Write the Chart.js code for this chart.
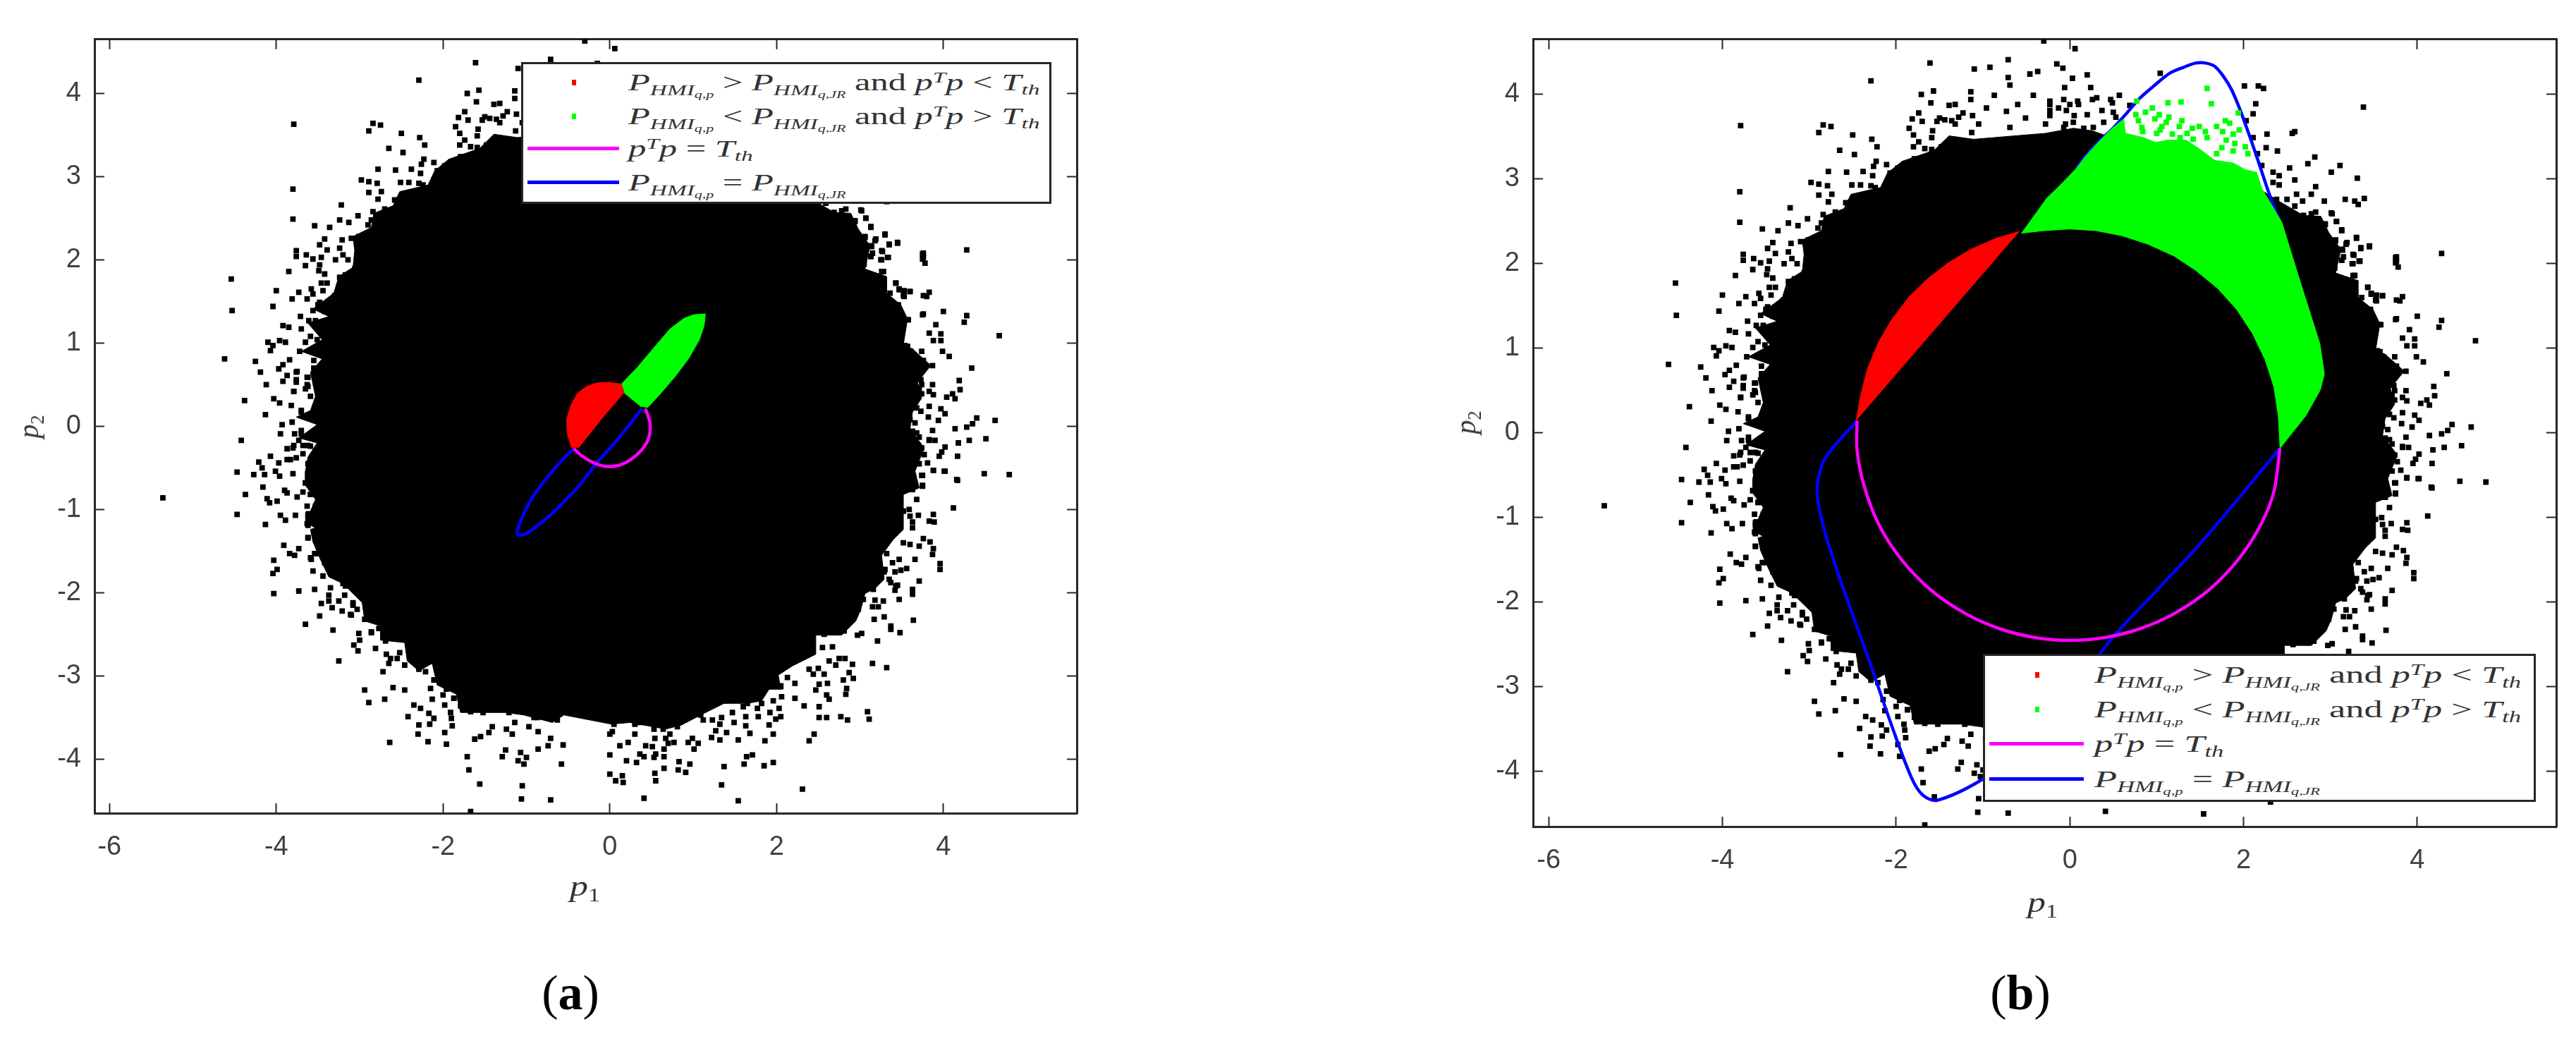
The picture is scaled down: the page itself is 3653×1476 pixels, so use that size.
<!DOCTYPE html>
<html>
<head>
<meta charset="utf-8">
<title>Panels a and b</title>
<script src="https://cdn.jsdelivr.net/npm/chart.js@4"></script>
<style>
  html, body { margin: 0; padding: 0; background: #fff; }
  #page { position: relative; width: 3653px; height: 1476px; overflow: hidden; }
  canvas { position: absolute; }
  .math { font-family: "Liberation Serif", serif; color: #333; white-space: nowrap; position: absolute; line-height: 1; transform-origin: left center; }
  .math i { font-style: italic; }
  .math sub, .math sup { font-size: 66%; line-height: 0; }
  .math sub { vertical-align: -0.3em; }
  .math sup { vertical-align: 0.5em; }
  .legend { position: absolute; background: #fff; border: 3px solid #262626; box-sizing: border-box; }
  .swatch { position: absolute; }
  .caption { position: absolute; font-family: "Liberation Serif", serif; font-size: 70px; color: #000; line-height: 1; transform: translate(-50%, -50%); }
</style>
</head>
<body>
<div id="page">
  <canvas id="panelA" width="1800" height="1300" style="left:0;top:0"></canvas>
  <canvas id="panelB" width="1653" height="1320" style="left:2000px;top:0"></canvas>
</div>
<script>
var xTicks = [-6, -4, -2, 0, 2, 4];
var yTicks = [-4, -3, -2, -1, 0, 1, 2, 3, 4];

// solid middle of the black cloud, jagged outline
var cloudCore = [[0.6,3.3],[0.45,3.5],[0.26,3.57],[0.04,3.6],[-0.28,3.54],[-1.11,3.47],[-1.39,3.51],[-1.56,3.34],[-1.93,3.21],[-2.1,3.07],[-2.18,2.9],[-2.52,2.82],[-2.6,2.65],[-2.83,2.56],[-2.86,2.39],[-3.08,2.28],[-3.06,2.11],[-3.08,1.91],[-3.25,1.8],[-3.31,1.6],[-3.56,1.41],[-3.37,1.32],[-3.62,1.24],[-3.45,1.04],[-3.7,0.9],[-3.45,0.81],[-3.59,0.65],[-3.53,0.36],[-3.59,0.19],[-3.76,0.11],[-3.51,0.02],[-3.73,-0.14],[-3.51,-0.2],[-3.62,-0.37],[-3.65,-0.54],[-3.65,-0.71],[-3.53,-0.88],[-3.65,-1.16],[-3.53,-1.22],[-3.59,-1.24],[-3.56,-1.39],[-3.48,-1.58],[-3.37,-1.81],[-3.2,-1.89],[-2.97,-2.12],[-2.94,-2.34],[-2.75,-2.4],[-2.75,-2.57],[-2.46,-2.6],[-2.43,-2.82],[-2.29,-2.94],[-2.13,-2.85],[-2.07,-3.11],[-1.84,-3.22],[-1.79,-3.44],[-1.53,-3.44],[-1.25,-3.44],[-1.03,-3.47],[-0.69,-3.56],[-0.55,-3.47],[0.02,-3.58],[0.24,-3.56],[0.67,-3.64],[0.86,-3.59],[1.09,-3.47],[1.37,-3.33],[1.65,-3.33],[1.82,-3.3],[1.91,-3.16],[2.05,-3.16],[2.02,-2.99],[2.19,-2.88],[2.47,-2.74],[2.47,-2.51],[2.78,-2.51],[2.95,-2.34],[3.01,-2.2],[3.06,-2.01],[3.18,-1.95],[3.29,-1.84],[3.26,-1.55],[3.4,-1.36],[3.52,-1.24],[3.52,-0.82],[3.71,-0.74],[3.66,-0.54],[3.77,-0.26],[3.6,-0.03],[3.63,0.17],[3.74,0.34],[3.69,0.53],[3.85,0.73],[3.63,0.93],[3.52,0.98],[3.57,1.29],[3.49,1.46],[3.32,1.6],[3.32,1.8],[3.06,1.89],[3.12,2.17],[2.98,2.37],[2.89,2.56],[2.69,2.57],[2.42,2.73],[2,3],[1.3,3.2]];

var cloudTopLeft = [[-1.61,4.37],[-2.29,4.16],[-0.71,4.41],[-1.71,4],[-1.57,4.04],[-1.6,3.9],[-1.39,3.87],[-1.14,3.94],[-1.74,3.78],[-1.815,3.71],[-1.7,3.68],[-1.53,3.68],[-1.44,3.7],[-1.36,3.69],[-1.28,3.73],[-1.23,3.78],[-1.12,3.75],[-1.85,3.6],[-1.8,3.52],[-1.58,3.57],[-1.59,3.49],[-1.13,3.55],[-3.79,3.63],[-2.84,3.64],[-2.75,3.62],[-2.89,3.55],[-2.5,3.52],[-2.28,3.47],[-2.22,3.38],[-2.65,3.34],[-2.48,3.29],[-2.78,3.09],[-2.57,3.08],[-2.38,3.09],[-2.27,3.04],[-2.23,3.21],[-2.26,3.15],[-2.11,3.17],[-1.8,3.38],[-1.74,3.44],[-1.67,3.36],[-2.98,2.96],[-2.89,2.94],[-2.79,2.92],[-2.51,2.93],[-2.41,2.93],[-2.29,2.92],[-3.8,2.85],[-2.89,2.81],[-2.74,2.82],[-2.78,2.73],[-2.58,2.72],[-3.22,2.66],[-3.8,2.49],[-3.02,2.53],[-3.24,2.48],[-3.13,2.45],[-3.54,2.41],[-3.36,2.39],[-2.84,2.58],[-2.86,2.48],[-2.7,2.61],[-2.79,2.48],[-2.9,2.42],[-2.63,2.54],[-2.52,2.41],[-2.8,2.31],[-3.01,2.28],[-2.92,2.28],[-3.1,2.26],[-3.21,2.24],[-3.42,2.25],[-3.48,2.18],[-3.39,2.12],[-3.76,2.11],[-3.76,2.04],[-3.64,2.06],[-3.56,2.01],[-3.46,2.03],[-3.24,2.14],[-3.2,2.06],[-3.29,2],[-3.65,1.93],[-3.48,1.94],[-3.85,1.86],[-3.49,1.87],[-3.42,1.83],[-4.54,1.77],[-3.24,1.79],[-3.46,1.72],[-3.39,1.72],[-3.17,1.82],[-4,1.63],[-3.73,1.61],[-3.58,1.65],[-3.56,1.59],[-3.44,1.63],[-3.25,1.66],[-3.3,1.57],[-3.81,1.53],[-3.63,1.53],[-3.2,1.59],[-3.48,1.49],[-3.3,1.45],[-4.04,1.44],[-4.53,1.39],[-3.56,1.39],[-3.42,1.38],[-3.71,1.32],[-3.61,1.27],[-3.92,1.21],[-3.85,1.19],[-3.7,1.17],[-3.54,1.21],[-3.39,1.23],[-3.59,1.08],[-4.1,1.01],[-3.96,1.03],[-3.89,1.01],[-4.04,0.97],[-3.65,1.01],[-3.51,1.04],[-4.07,0.91],[-3.72,0.9],[-3.56,0.91],[-4.62,0.81],[-4.25,0.78],[-3.84,0.8],[-3.92,0.74],[-3.97,0.69],[-3.55,0.79],[-3.55,0.7],[-4.19,0.65],[-3.87,0.61],[-3.75,0.66],[-3.92,0.54],[-3.76,0.56],[-4.12,0.5],[-3.63,0.59],[-3.63,0.5],[-3.79,0.42]];

var cloudLeft = [[-4.38,0.31],[-4.03,0.33],[-3.96,0.28],[-3.82,0.25],[-3.7,0.19],[-4.13,0.14],[-3.93,0.02],[-3.81,0.05],[-3.95,-0.09],[-3.78,-0.09],[-3.7,-0.05],[-4.42,-0.17],[-3.73,-0.17],[-3.87,-0.27],[-3.8,-0.26],[-3.68,-0.33],[-3.59,-0.24],[-4.07,-0.36],[-3.83,-0.4],[-3.97,-0.44],[-4.21,-0.43],[-4.17,-0.5],[-4.47,-0.55],[-4.27,-0.58],[-4.14,-0.58],[-4.01,-0.54],[-3.96,-0.6],[-3.8,-0.57],[-4.16,-0.73],[-3.9,-0.77],[-3.87,-0.8],[-4.37,-0.82],[-3.75,-0.85],[-3.68,-0.79],[-5.36,-0.86],[-4.11,-0.87],[-4.08,-0.92],[-3.99,-0.9],[-3.63,-0.96],[-4.47,-1.06],[-3.95,-1.07],[-3.77,-1.07],[-3.89,-1.13],[-3.61,-1.05],[-3.63,-1.17],[-4.13,-1.18],[-3.62,-1.34],[-3.91,-1.43],[-3.73,-1.47],[-3.84,-1.53],[-3.78,-1.55],[-4.03,-1.61],[-3.59,-1.58]];

var cloudBottomLeft = [[-3.99,-1.72],[-4.04,-1.77],[-3.58,-1.6],[-3.56,-1.74],[-3.44,-1.8],[-3.32,-1.79],[-3.23,-1.8],[-4.03,-2.01],[-3.73,-1.98],[-3.54,-1.96],[-3.35,-1.94],[-3.2,-1.89],[-3.37,-2.03],[-3.18,-2.03],[-3.46,-2.13],[-3.37,-2.1],[-3.25,-2.1],[-3.33,-2.18],[-3.21,-2.22],[-3.1,-2.27],[-3.08,-2.15],[-3.48,-2.28],[-3.65,-2.38],[-3.32,-2.45],[-2.94,-2.32],[-2.83,-2.29],[-3.01,-2.49],[-2.86,-2.48],[-3,-2.57],[-3.07,-2.63],[-3.02,-2.7],[-2.81,-2.67],[-2.69,-2.58],[-2.75,-2.43],[-2.68,-2.74],[-2.52,-2.72],[-2.63,-2.79],[-2.55,-2.79],[-3.25,-2.82],[-2.65,-2.85],[-2.46,-2.87],[-2.72,-2.95],[-2.32,-2.82],[-2.29,-2.92],[-2.21,-2.95],[-2.11,-3.05],[-2.94,-3.17],[-2.6,-3.14],[-2.46,-3.17],[-2.15,-3.15],[-1.96,-3.16],[-2,-3.23],[-2.7,-3.28],[-2.89,-3.32],[-2.13,-3.28],[-1.87,-3.27],[-2.35,-3.35],[-2.27,-3.39],[-1.98,-3.35],[-2.42,-3.49],[-2.17,-3.45],[-2.11,-3.51],[-1.91,-3.44],[-1.74,-3.39],[-1.67,-3.43],[-1.52,-3.44],[-1.36,-3.4],[-1.21,-3.44],[-1.9,-3.51],[-1.89,-3.6],[-2.29,-3.59],[-2.16,-3.58],[-2.3,-3.7],[-1.98,-3.68],[-2.64,-3.8],[-2.18,-3.79],[-1.96,-3.82],[-1.62,-3.76],[-1.55,-3.73],[-1.45,-3.68],[-1.41,-3.61],[-1.24,-3.64],[-1.14,-3.56],[-1.17,-3.7],[-0.97,-3.61],[-0.87,-3.5],[-0.86,-3.67],[-0.71,-3.75],[-0.63,-3.53],[-0.74,-3.84],[-1.25,-3.89],[-1.29,-3.97],[-0.86,-3.88],[-0.56,-3.83],[-1.71,-3.97],[-1.69,-4.13],[-1.07,-3.92],[-1,-3.98],[-1.1,-4.02],[-1.03,-4.06],[-0.58,-4.06],[-1.56,-4.3],[-1.05,-4.32],[-1.06,-4.48],[-0.71,-4.49],[-1.67,-4.63]];

var cloudBottomRight = [[0,-3.95],[0.2,-4.02],[0.32,-4.04],[0,-4.18],[0.07,-4.26],[0.15,-4.2],[0.16,-4.28],[0.12,-3.84],[0.22,-3.8],[0.03,-3.67],[0.3,-3.7],[0.43,-3.84],[0.51,-3.85],[0.54,-3.75],[0.36,-3.94],[0.41,-3.97],[0.53,-3.98],[0.55,-3.94],[0.65,-3.97],[0.65,-3.88],[0.7,-3.81],[0.77,-3.8],[0.65,-4.11],[0.54,-4.17],[0.55,-4.26],[0.41,-4.47],[0.83,-4.03],[0.96,-4.06],[0.82,-4.13],[0.91,-4.16],[0.94,-3.8],[0.99,-3.75],[1.06,-3.81],[1.01,-3.88],[1.37,-4.09],[1.34,-4.31],[1.54,-4.5],[2.31,-4.36],[1.22,-3.74],[1.32,-3.77],[1.27,-3.66],[1.4,-3.68],[1.54,-3.77],[1.63,-3.6],[1.68,-3.69],[1.64,-3.97],[1.71,-3.95],[1.61,-4.06],[1.85,-4.08],[1.96,-4.04],[1.86,-3.78],[1.96,-3.7],[1.91,-3.59],[2.39,-3.78],[2.45,-3.7],[1.47,-3.44],[1.63,-3.49],[1.78,-3.49],[1.92,-3.44],[1.99,-3.52],[2.05,-3.49],[1.6,-3.37],[2.03,-3.39],[2.33,-3.36],[2.51,-3.5],[2.6,-3.5],[2.77,-3.49],[2.85,-3.53],[3.09,-3.43],[3.11,-3.52],[2.51,-3.37],[2.22,-3.27],[2.06,-3.25],[2.63,-3.28],[2.6,-3.23],[2.47,-3.17],[2.51,-3.1],[2.61,-3.09],[2.22,-3.09],[2.13,-3.02],[2.05,-3.12],[2.44,-2.98],[2.57,-2.98],[2.39,-2.92],[2.5,-2.91],[2.8,-3.05],[2.92,-3.03],[2.87,-2.96],[2.84,-3.15],[2.83,-3.22],[2.91,-2.86],[3.15,-2.85],[3.32,-2.9],[2.71,-2.87],[2.63,-2.82],[2.75,-2.79],[2.82,-2.79],[2.55,-2.66],[2.67,-2.65],[3.21,-2.58],[2.97,-2.51],[3.02,-2.49],[3.48,-2.48],[3.37,-2.4],[3.37,-2.44],[3.17,-2.32],[3.29,-2.29],[3.64,-2.33],[2.87,-2.32],[2.81,-2.46],[2.57,-2.5],[3.47,-2.08],[3.63,-1.96],[3.63,-2.02],[3.15,-2.17],[3.22,-2.17],[3.18,-2.09],[3.28,-2.1],[3.42,-1.97],[3.45,-1.91],[2.97,-2.15],[3.04,-2.08],[3.71,-1.86],[3.37,-1.88],[3.16,-1.96],[3.96,-1.65],[3.96,-1.72],[3.42,-1.75],[3.49,-1.73],[3.56,-1.71],[3.39,-1.64],[3.47,-1.6],[3.66,-1.6],[3.3,-1.72],[3.87,-1.54],[3.88,-1.47],[3.84,-1.39],[3.76,-1.35],[3.71,-1.44],[3.6,-1.42],[3.52,-1.4],[3.47,-1.23],[3.63,-1.22],[3.63,-1.15],[3.83,-1.14],[3.89,-1.15],[3.88,-1.06],[3.7,-1.07],[3.59,-1],[3.6,-1.08],[4.12,-0.98],[3.68,-0.88],[3.75,-0.72],[4.17,-0.65],[3.63,-0.76],[3.88,-0.53],[4.01,-0.54],[3.74,-0.59],[3.63,-0.57]];

var cloudRight = [[3.02,2.59],[3.07,2.5],[2.94,2.46],[3.13,2.39],[3.3,2.3],[2.97,2.3],[3.06,2.28],[3.19,2.25],[3.13,2.17],[3.35,2.18],[3.45,2.2],[3.27,2.1],[4.28,2.12],[3.76,2.08],[3.76,2.03],[3.78,1.96],[3.13,2.04],[3.34,2.03],[3.26,2],[3.28,1.86],[3.43,1.72],[3.28,1.77],[3.47,1.64],[3.6,1.62],[3.53,1.56],[3.83,1.61],[3.8,1.56],[3.36,1.6],[3.32,1.53],[3.46,1.45],[3.37,1.41],[3.76,1.35],[4,1.38],[4.28,1.33],[4.25,1.25],[3.49,1.34],[3.57,1.28],[3.4,1.25],[3.47,1.24],[3.91,1.22],[3.83,1.12],[3.97,1.11],[3.88,1.03],[3.97,1.03],[4.67,1.09],[3.43,1.11],[3.46,1.05],[3.54,0.97],[3.74,0.9],[3.61,0.9],[3.99,0.9],[4.07,0.84],[3.49,0.86],[3.76,0.79],[3.87,0.73],[3.66,0.78],[4.34,0.7],[3.73,0.67],[3.63,0.63],[4.19,0.55],[3.73,0.56],[3.87,0.5],[4.2,0.44],[3.74,0.5],[3.83,0.42],[3.88,0.38],[4.11,0.39],[4.04,0.35],[4.14,0.33],[3.68,0.36],[3.83,0.24],[3.97,0.21],[4.02,0.15],[3.73,0.18],[3.82,0.11],[3.94,0.07],[4.4,0.1],[4.62,0.07],[4.35,0.03],[4.28,-0.01],[4.14,-0.03],[3.66,0.04],[3.87,-0.05],[3.68,-0.08],[3.71,-0.13],[3.83,-0.17],[3.9,-0.17],[4.18,-0.2],[4.31,-0.17],[4.51,-0.15],[4.02,-0.25],[3.98,-0.31],[3.95,-0.36],[4.17,-0.36],[3.77,-0.34],[3.74,-0.26],[3.81,-0.44],[3.88,-0.53],[4.02,-0.54],[4.49,-0.57],[4.79,-0.58],[4.16,-0.64],[3.75,-0.59],[3.64,-0.6],[3.75,-0.71]];

var cloudTopRight = [[-0.3,4.63],[0.06,4.54],[-0.15,4.36],[-0.08,4.31],[0.2,4.23],[0.03,4.19],[-0.06,4.08],[0.24,4.08],[1.04,4.25],[0.31,3.96],[0.26,3.94],[0.57,3.99],[0.47,3.94],[0.49,3.9],[-0.07,3.94],[-0.23,3.92],[0.1,3.88],[0.69,3.87],[-0.13,3.84],[-0.23,3.81],[-0.04,3.81],[0.37,3.81],[0.5,3.79],[0.05,3.75],[0.2,3.76],[-0.23,3.75],[0.53,3.73],[0.39,3.67],[0.04,3.67],[0.27,3.61],[0.16,3.6],[-0.07,3.61],[2.01,4.1],[2.17,4.1],[2.23,4.07],[2.14,3.89],[2.11,3.77],[3.38,3.85],[2.03,3.69],[2.27,3.53],[2.59,3.56],[2.56,3.54],[2.11,3.49],[2.26,3.37],[2.39,3.33],[2.16,3.3],[2.82,3.26],[2.74,3.18],[2.21,3.16],[2.53,3.13],[2.34,3.08],[2.41,3.04],[2.59,2.99],[3.11,3.16],[3.01,3.08],[3.31,3.01],[2.34,2.96],[2.41,2.93],[2.83,2.91],[2.78,2.82],[2.61,2.82],[2.93,2.74],[3.17,2.76],[3.28,2.74],[3.39,2.77],[3.32,2.7],[2.38,2.76],[2.5,2.76],[2.68,2.74],[2.59,2.68],[3.01,2.6],[3.07,2.5],[2.94,2.47],[2.83,2.61],[2.69,2.57],[3.13,2.4],[2.84,2.37],[3.3,2.31],[2.96,2.3],[3.06,2.27],[3.45,2.21],[3.35,2.19],[3.18,2.23],[3.14,2.16],[3.26,2.11],[3.75,2.07],[3.75,2.01],[3.33,2.03],[3.25,2],[3.13,2.04],[3.05,1.95],[3.28,1.86],[3.43,1.72],[3.53,1.63],[3.6,1.62],[3.47,1.65],[3.52,1.57],[3.76,1.57],[3.75,1.34],[3.58,1.28],[3.48,1.35],[3.44,1.11],[-1.1,4.3],[-0.92,4.32],[-0.71,4.2],[-0.46,4.24],[-0.37,4.27],[-1.14,4.03],[-0.87,3.99],[-0.69,4.11],[-0.6,3.88],[-0.42,3.99],[-0.23,3.88],[-1.32,3.88],[-0.96,3.84],[-0.73,3.8],[-0.51,3.72],[-0.28,3.65],[0,3.88],[0.09,3.92],[-0.05,3.65],[-0.69,3.61],[-1.05,3.65],[-1.32,3.65],[-1.5,3.72]];

// clumps right at the edge of the solid part
var cloudDense = [[-1.36,3.47],[-1.28,3.41],[-1.48,3.38],[-1.59,3.35],[-1.79,3.24],[-1.9,3.18],[-1.98,3.13],[-2.07,3.07],[-2.24,2.9],[-2.15,2.85],[-2.46,2.79],[-2.32,2.79],[-2.52,2.73],[-2.27,2.7],[-2.61,2.56],[-2.66,2.42],[-2.58,2.34],[-2.92,2.2],[-3,2.11],[-3.14,2],[-3.06,1.89],[-3.2,1.75],[-3.11,1.8],[-3.25,1.66],[-3.17,1.58],[-3.25,1.46],[-3.5,1.46],[-3.53,1.27],[-3.45,1.1],[-3.37,1.21],[-3.37,1.01],[-3.42,0.96],[-3.51,0.9],[-3.39,0.82],[-3.53,0.53],[-3.62,0.48],[-3.76,0.65],[-3.76,0.53],[-3.62,0.59],[-3.65,0.45],[-3.79,0.42],[-3.59,0.36],[-3.7,0.17],[-3.62,0.11],[-3.7,-0.09],[-3.68,-0.23],[-3.79,-0.23],[-3.62,-0.23],[-3.76,-0.38],[-3.87,-0.4],[-3.62,-0.45],[-3.59,-0.6],[-3.65,-0.68],[-3.53,-0.74],[-3.59,-0.82],[-3.53,-0.99],[-3.62,-1.1],[-3.51,-1.13],[-3.53,-1.36],[-3.42,-1.41],[-3.51,-1.53],[-3.62,-0.57],[-3.56,-0.68],[-3.65,-0.68],[-3.59,-0.82],[-3.53,-0.96],[-3.62,-1.06],[-3.62,-1.19],[-3.62,-1.34],[-3.51,-1.33],[-3.45,-1.44],[-3.39,-1.53],[-3.54,-1.53],[-3.42,-1.64],[-3.25,-1.64],[-3.34,-1.75],[-3.11,-1.86],[-3.17,-1.92],[-3.08,-2.12],[-3.03,-2.2],[-3.11,-2.26],[-2.89,-2.32],[-2.77,-2.43],[-2.86,-2.47],[-2.63,-2.51],[-2.38,-2.74],[-2.32,-2.82],[-2.07,-2.91],[-2.1,-3.05],[-1.9,-3.11],[-1.87,-3.27],[-1.79,-3.36],[-1.67,-3.39],[-1.59,-3.3],[-1.48,-3.39],[-1.36,-3.3],[-1.28,-3.39],[-1.11,-3.42],[-0.99,-3.39],[-0.91,-3.5],[-0.83,-3.44],[-0.63,-3.47],[0.05,-3.58],[0,-3.7],[0.3,-3.58],[0.36,-3.56],[0.53,-3.64],[0.64,-3.64],[0.72,-3.7],[0.67,-3.75],[0.81,-3.61],[0.89,-3.53],[1.09,-3.47],[1.12,-3.53],[1.23,-3.53],[1.34,-3.5],[1.32,-3.58],[1.49,-3.56],[1.4,-3.3],[1.65,-3.33],[1.77,-3.39],[1.82,-3.33],[1.96,-3.3],[2.05,-3.13],[2.92,-2.15],[2.98,-2.2],[3.01,-2.03],[3.15,-1.86],[3.29,-1.75],[3.35,-1.84],[3.43,-1.92],[3.32,-1.53],[3.43,-1.24],[3.63,-0.76],[3.57,-0.57],[3.52,-1.02],[3.49,-0.4],[3.57,-0.45],[3.71,-0.45],[3.63,-0.54],[3.63,-0.29],[3.83,-0.16],[3.63,-0.06],[3.6,0.08],[3.68,0.22],[3.74,0.39],[3.71,0.45],[3.63,0.5],[3.74,0.73],[3.63,0.82],[3.54,0.84],[3.57,0.96],[3.49,1.15],[3.46,1.32],[3.46,1.46],[3.35,1.52],[3.26,1.63],[3.18,1.69],[3.26,1.86],[3.15,2.08],[3.04,2.25],[2.89,2.45],[2.78,2.59]];

// panel (a)
var circleA = [[0.427,0.212],[0.483,0.029],[0.455,-0.169],[0.328,-0.339],[0.159,-0.451],[-0.01,-0.485],[-0.165,-0.451],[-0.32,-0.367],[-0.433,-0.268]];
var curveA = [[-0.433,-0.268],[-0.574,-0.409],[-0.687,-0.536],[-0.8,-0.677],[-0.913,-0.832],[-0.997,-0.974],[-1.059,-1.115],[-1.104,-1.242],[-1.11,-1.292],[-1.076,-1.312],[-0.969,-1.27],[-0.856,-1.185],[-0.687,-1.044],[-0.518,-0.875],[-0.349,-0.691],[-0.165,-0.451],[0.103,-0.147],[0.385,0.212]];
var redA = [[0.173,0.401],[0.139,0.508],[-0.01,0.528],[-0.151,0.52],[-0.278,0.48],[-0.391,0.395],[-0.467,0.254],[-0.518,0.085],[-0.512,-0.084],[-0.461,-0.254],[-0.371,-0.254],[-0.123,0.057]];
var greenA = [[0.139,0.508],[0.328,0.706],[0.554,0.974],[0.723,1.172],[0.892,1.299],[1.005,1.341],[1.146,1.35],[1.132,1.214],[1.076,1.045],[0.949,0.819],[0.779,0.593],[0.61,0.395],[0.455,0.226],[0.37,0.24],[0.173,0.401]];

// panel (b)
var circleB = [[2.42,-0.18],[2.35,-0.69],[2.2,-1.08],[1.95,-1.48],[1.6,-1.855],[1.2,-2.135],[0.8,-2.315],[0.4,-2.417],[0,-2.45],[-0.4,-2.417],[-0.8,-2.315],[-1.2,-2.135],[-1.6,-1.855],[-1.95,-1.48],[-2.2,-1.08],[-2.37,-0.62],[-2.45,-0.2],[-2.45,0.145]];
var curveB = [[-2.45,0.145],[-2.73,-0.176],[-2.85,-0.367],[-2.91,-0.71],[-2.82,-1.17],[-2.6,-1.86],[-2.32,-2.66],[-2.05,-3.46],[-1.82,-4.08],[-1.69,-4.28],[-1.53,-4.34],[-1.02,-4.1],[-0.5,-3.7],[0,-3.1],[0.33,-2.63],[0.54,-2.36],[1.49,-1.32],[2.42,-0.18]];
var curveBTop = [[2.46,2.37],[2.29,2.84],[2.15,3.27],[2.02,3.65],[1.94,3.87],[1.86,4.06],[1.77,4.21],[1.67,4.33],[1.56,4.37],[1.45,4.37],[1.31,4.32],[1.15,4.25],[0.99,4.12],[0.8,3.95],[0.64,3.76],[0.47,3.57],[0.34,3.45],[0.18,3.27],[0.07,3.12]];
var redB = [[-0.58,2.38],[-0.85,2.3],[-1.14,2.17],[-1.4,2.01],[-1.64,1.82],[-1.85,1.61],[-2.05,1.34],[-2.2,1.08],[-2.33,0.76],[-2.41,0.44],[-2.46,0.145]];
var greenB = [[-0.56,2.36],[-0.3,2.39],[0,2.41],[0.3,2.39],[0.6,2.33],[0.9,2.23],[1.2,2.09],[1.45,1.92],[1.7,1.71],[1.92,1.46],[2.1,1.18],[2.25,0.86],[2.35,0.54],[2.4,0.2],[2.42,-0.18],[2.72,0.207],[2.885,0.512],[2.93,0.7],[2.88,1.05],[2.67,1.73],[2.44,2.49],[2.32,2.7],[2.21,2.89],[2.15,3.08],[2.02,3.11],[1.88,3.19],[1.67,3.22],[1.5,3.35],[1.34,3.46],[1.12,3.46],[0.99,3.43],[0.85,3.49],[0.64,3.54],[0.62,3.71],[0.5,3.61],[0.34,3.45],[0.18,3.27],[0.07,3.12],[-0.12,2.92],[-0.28,2.76]];
var greenDotsB = [[1.58,4.07],[1.63,3.89],[1.13,3.9],[1.28,3.91],[0.77,3.92],[0.95,3.84],[0.87,3.79],[0.76,3.76],[1.94,3.78],[1.03,3.76],[1.14,3.73],[0.79,3.69],[0.98,3.71],[1.11,3.67],[1.29,3.69],[0.83,3.61],[1.79,3.69],[1.84,3.66],[1.69,3.62],[1.26,3.62],[1.06,3.62],[1.49,3.62],[1.41,3.6],[0.84,3.56],[1,3.54],[1.04,3.58],[1.35,3.54],[1.56,3.56],[1.76,3.56],[1.95,3.58],[1.88,3.53],[1.18,3.53],[1.27,3.49],[1.58,3.49],[1.8,3.46],[1.9,3.42],[2.02,3.38],[1.42,3.47],[1.02,3.41],[1.75,3.37],[2.05,3.3],[1.88,3.33],[1.69,3.3]];

var cloud = cloudTopLeft.concat(cloudLeft, cloudBottomLeft, cloudBottomRight, cloudRight, cloudTopRight, cloudDense);

var legendRows = [
  '<i>P</i><sub><i>HMI</i><sub><i>q,p</i></sub></sub> &gt; <i>P</i><sub><i>HMI</i><sub><i>q,JR</i></sub></sub> and <i>p</i><sup><i>T</i></sup><i>p</i> &lt; <i>T</i><sub><i>th</i></sub>',
  '<i>P</i><sub><i>HMI</i><sub><i>q,p</i></sub></sub> &lt; <i>P</i><sub><i>HMI</i><sub><i>q,JR</i></sub></sub> and <i>p</i><sup><i>T</i></sup><i>p</i> &gt; <i>T</i><sub><i>th</i></sub>',
  '<i>p</i><sup><i>T</i></sup><i>p</i> = <i>T</i><sub><i>th</i></sub>',
  '<i>P</i><sub><i>HMI</i><sub><i>q,p</i></sub></sub> = <i>P</i><sub><i>HMI</i><sub><i>q,JR</i></sub></sub>'
];
var legendColors = ['#ff0000', '#00ff00', '#ff00ff', '#0000ff'];

function pts(list) {
  return list.map(function (p) { return { x: p[0], y: p[1] }; });
}

function outline(list, color) {
  return { data: pts(list), showLine: true, fill: 'shape', backgroundColor: color, borderColor: color, borderWidth: 1, pointRadius: 0 };
}

function curve(list, color) {
  return { data: pts(list), showLine: true, fill: false, tension: 0.3, borderColor: color, borderWidth: 4.5, pointRadius: 0 };
}

function dots(list, color) {
  return { data: pts(list), showLine: false, pointStyle: 'rect', pointRadius: 5.5, pointBorderWidth: 0, pointBackgroundColor: color };
}

function scaleOpts(position, ticks, min, max, size, padding, labels) {
  var horizontal = position === 'bottom' || position === 'top';
  return {
    type: 'linear',
    position: position,
    min: min,
    max: max,
    afterBuildTicks: function (s) { s.ticks = ticks.map(function (v) { return { value: v }; }); },
    afterFit: function (s) { if (horizontal) { s.height = size; } else { s.width = size; } },
    border: { display: true, color: '#262626', width: 3 },
    grid: { drawOnChartArea: false, drawTicks: true, tickLength: -14, tickWidth: 2, tickColor: '#262626' },
    ticks: {
      display: labels,
      autoSkip: false,
      maxRotation: 0,
      padding: padding,
      color: '#404040',
      font: { family: 'Liberation Sans', size: 38 },
      callback: function (v) { return String(v); }
    }
  };
}

function makePanel(id, p) {
  new Chart(document.getElementById(id), {
    type: 'scatter',
    data: {
      datasets: [
        outline(p.red, '#ff0000'),
        outline(p.green, '#00ff00'),
        dots(p.greenDots, '#00ff00'),
        curve(p.circle, '#ff00ff'),
        curve(p.curve, '#0000ff'),
        curve(p.curveTop, '#0000ff'),
        dots(cloud, '#000000'),
        outline(cloudCore, '#000000')
      ]
    },
    options: {
      responsive: false,
      animation: false,
      devicePixelRatio: 1,
      layout: { autoPadding: false, padding: p.padding },
      plugins: { legend: { display: false }, tooltip: { enabled: false } },
      scales: {
        x: scaleOpts('bottom', xTicks, -6.18, 5.6, p.bottom, 40, true),
        y: scaleOpts('left', yTicks, -4.65, 4.65, p.left, 33, true),
        x2: scaleOpts('top', xTicks, -6.18, 5.6, 0, 0, false),
        y2: scaleOpts('right', yTicks, -4.65, 4.65, 0, 0, false)
      }
    }
  });
}

makePanel('panelA', {
  red: redA, green: greenA, greenDots: [], circle: circleA, curve: curveA, curveTop: [],
  left: 134, bottom: 147, padding: { top: 53, right: 273, left: 0, bottom: 0 }
});
makePanel('panelB', {
  red: redB, green: greenB, greenDots: greenDotsB, circle: circleB, curve: curveB, curveTop: curveBTop,
  left: 174, bottom: 148, padding: { top: 26, right: 28, left: 0, bottom: 0 }
});

// legend boxes and labels sit on top of the canvases as html so the math stays real text
var page = document.getElementById('page');

function addMath(html, x, y, size, rotate, stretch) {
  var el = document.createElement('div');
  el.className = 'math';
  el.innerHTML = html;
  el.style.left = x + 'px';
  el.style.top = y + 'px';
  el.style.fontSize = size + 'px';
  if (rotate) {
    el.style.transformOrigin = 'center';
    el.style.transform = 'translate(-50%,-50%) rotate(-90deg)';
  } else {
    el.style.transform = 'translateY(-50%) scaleX(' + stretch + ')';
  }
  page.appendChild(el);
}

function addLegend(box, rowYs, markerX, lineFrom, lineTo, textX, size, stretch) {
  var el = document.createElement('div');
  el.className = 'legend';
  el.style.left = box[0] + 'px';
  el.style.top = box[1] + 'px';
  el.style.width = (box[2] - box[0]) + 'px';
  el.style.height = (box[3] - box[1]) + 'px';
  page.appendChild(el);
  legendRows.forEach(function (row, i) {
    var s = document.createElement('div');
    s.className = 'swatch';
    s.style.background = legendColors[i];
    if (i < 2) {
      s.style.left = (markerX - 3) + 'px';
      s.style.top = (rowYs[i] - 4) + 'px';
      s.style.width = '6px';
      s.style.height = '8px';
    } else {
      s.style.left = lineFrom + 'px';
      s.style.top = (rowYs[i] - 3) + 'px';
      s.style.width = (lineTo - lineFrom) + 'px';
      s.style.height = '5px';
    }
    page.appendChild(s);
    addMath(row, textX, rowYs[i], size, false, stretch);
  });
}

addLegend([739, 88, 1491, 289], [117, 165, 211, 259], 814, 748, 878, 891, 33, 1.53);
addLegend([2812, 927, 3596, 1137], [957, 1006, 1055, 1105], 2889, 2821, 2955, 2970, 34, 1.54);

addMath('<i>p</i><sub>1</sub>', 808, 1257, 40, false, 1.3);
addMath('<i>p</i><sub>2</sub>', 41, 605, 40, true);
addMath('<i>p</i><sub>1</sub>', 2875, 1280, 40, false, 1.3);
addMath('<i>p</i><sub>2</sub>', 2079, 599, 40, true);

[['a', 809], ['b', 2865]].forEach(function (c) {
  var el = document.createElement('div');
  el.className = 'caption';
  el.innerHTML = '(<b>' + c[0] + '</b>)';
  el.style.left = c[1] + 'px';
  el.style.top = '1408px';
  page.appendChild(el);
});
</script>
</body>
</html>
